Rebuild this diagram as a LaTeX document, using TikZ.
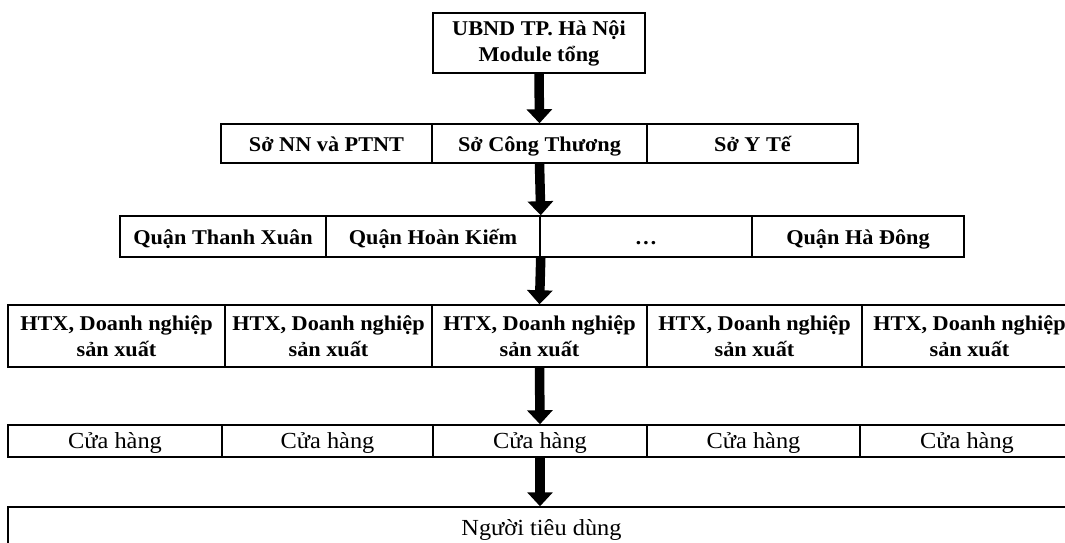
\documentclass[tikz,border=0pt]{standalone}
\usepackage{fontspec}
\setmainfont{Liberation Serif}[FakeStretch=1.06]
\usetikzlibrary{arrows.meta}

\tikzset{
    cell/.style={rectangle, draw, line width=1.5pt, inner sep=0pt, align=center,
        font=\fontsize{21}{26}\selectfont\bfseries},
    oneline/.style={cell, text height=17pt, text depth=1pt},
    plaincell/.style={oneline, font=\fontsize{23}{27}\selectfont, text height=17pt, text depth=3pt},
    bigarrow/.style={line width=9.5pt, -{Triangle[width=25pt, length=14pt]}}
}

\begin{document}
\begin{tikzpicture}[x=1pt, y=-1pt]
    \useasboundingbox (0,0) rectangle (1065,542);

    % Top: city level
    \node[cell, minimum width=212, minimum height=60] (ubnd) at (539,43) {
        UBND TP. Hà Nội\\
        Module tổng
    };

    % Level 1: departments
    \node[oneline, minimum width=211, minimum height=39] (sonn) at (326.5,143.5) {Sở NN và PTNT};
    \node[oneline, minimum width=215, minimum height=39] (soct) at (539.5,143.5) {Sở Công Thương};
    \node[oneline, minimum width=211, minimum height=39] (syt) at (752.5,143.5) {Sở Y Tế};

    % Level 2: districts
    \node[oneline, minimum width=206, minimum height=41] (qtx) at (223,236.5) {Quận Thanh Xuân};
    \node[oneline, minimum width=214, minimum height=41] (qhk) at (433,236.5) {Quận Hoàn Kiếm};
    \node[oneline, minimum width=212, minimum height=41] (qdots) at (646,236.5) {…};
    \node[oneline, minimum width=212, minimum height=41] (qhd) at (858,236.5) {Quận Hà Đông};

    % Level 3: producers
    \node[cell, minimum width=217, minimum height=62] (htxa) at (116.5,336) {
        HTX, Doanh nghiệp\\
        sản xuất
    };
    \node[cell, minimum width=207, minimum height=62] (htxb) at (328.5,336) {
        HTX, Doanh nghiệp\\
        sản xuất
    };
    \node[cell, minimum width=215, minimum height=62] (htxc) at (539.5,336) {
        HTX, Doanh nghiệp\\
        sản xuất
    };
    \node[cell, minimum width=215, minimum height=62] (htxd) at (754.5,336) {
        HTX, Doanh nghiệp\\
        sản xuất
    };
    \node[cell, minimum width=215, minimum height=62] (htxe) at (969.5,336) {
        HTX, Doanh nghiệp\\
        sản xuất
    };

    % Level 4: shops
    \node[plaincell, minimum width=214, minimum height=32] (cha) at (115,441) {Cửa hàng};
    \node[plaincell, minimum width=211, minimum height=32] (chb) at (327.5,441) {Cửa hàng};
    \node[plaincell, minimum width=214, minimum height=32] (chc) at (540,441) {Cửa hàng};
    \node[plaincell, minimum width=213, minimum height=32] (chd) at (753.5,441) {Cửa hàng};
    \node[plaincell, minimum width=214, minimum height=32] (che) at (967,441) {Cửa hàng};

    % Level 5: consumers
    \node[plaincell, minimum width=1067, minimum height=42] (ntd) at (541.5,528) {Người tiêu dùng};

    % Flow arrows
    \draw[bigarrow] (ubnd.south) -- (soct.north);
    \draw[bigarrow] (soct.south) -- (qhk.north east);
    \draw[bigarrow] (qhk.south east) -- (htxc.north);
    \draw[bigarrow] (htxc.south) -- (chc.north);
    \draw[bigarrow] (chc.south) -- (ntd.north -| chc.south);

\end{tikzpicture}
\end{document}
